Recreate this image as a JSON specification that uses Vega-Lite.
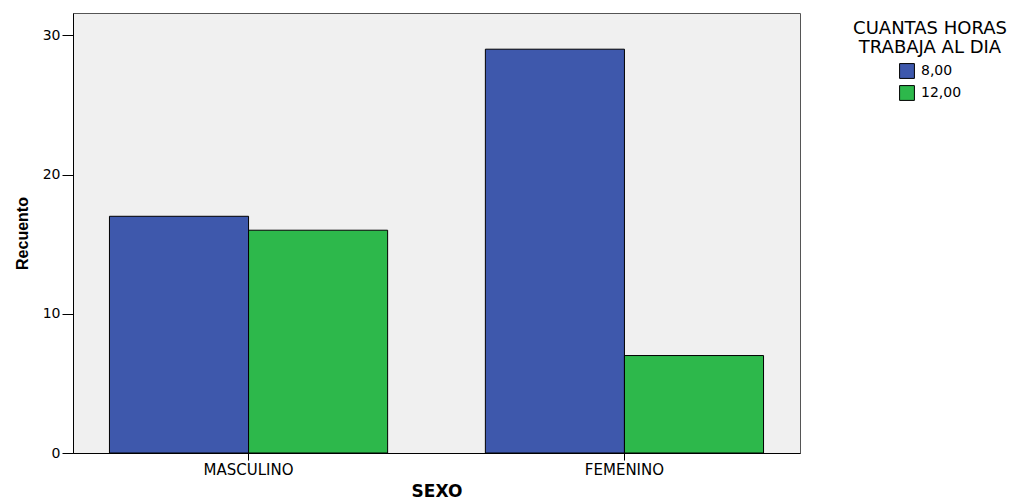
{
  "$schema": "https://vega.github.io/schema/vega-lite/v6.json",
  "autosize": "none",
  "width": 727,
  "height": 440,
  "padding": {"left": 73, "top": 13, "right": 233, "bottom": 48},
  "background": "white",
  "config": {
    "font": "DejaVu Sans",
    "view": {"fill": "#F0F0F0", "stroke": "#555555", "strokeWidth": 1}
  },
  "data": {
    "values": [
      {"sexo": "MASCULINO", "horas": "8,00", "recuento": 17},
      {"sexo": "MASCULINO", "horas": "12,00", "recuento": 16},
      {"sexo": "FEMENINO", "horas": "8,00", "recuento": 29},
      {"sexo": "FEMENINO", "horas": "12,00", "recuento": 7}
    ]
  },
  "mark": {"type": "bar", "stroke": "#000000", "strokeWidth": 1},
  "encoding": {
    "x": {
      "field": "sexo",
      "type": "nominal",
      "sort": ["MASCULINO", "FEMENINO"],
      "scale": {"paddingInner": 0.26, "paddingOuter": 0.097},
      "axis": {
        "title": "SEXO",
        "titleFont": "DejaVu Sans",
        "titleFontSize": 17,
        "titleFontWeight": "bold",
        "titleColor": "#000000",
        "titlePadding": 6,
        "labelAngle": 0,
        "labelFont": "DejaVu Sans",
        "labelFontSize": 15,
        "labelColor": "#000000",
        "labelPadding": 2,
        "tickColor": "#000000",
        "tickSize": 7,
        "domainColor": "#000000",
        "grid": false
      }
    },
    "xOffset": {"field": "horas", "type": "nominal", "sort": ["8,00", "12,00"], "scale": {"paddingInner": 0, "paddingOuter": 0}},
    "y": {
      "field": "recuento",
      "type": "quantitative",
      "scale": {"domain": [0, 31.6], "nice": false},
      "axis": {
        "title": "Recuento",
        "titleFont": "Liberation Sans",
        "titleFontSize": 16,
        "titleFontWeight": "bold",
        "titleColor": "#000000",
        "titlePadding": 12,
        "values": [0, 10, 20, 30],
        "labelFont": "DejaVu Sans",
        "labelFontSize": 14,
        "labelColor": "#000000",
        "tickColor": "#000000",
        "tickSize": 11,
        "labelPadding": 2,
        "domainColor": "#000000",
        "grid": false
      }
    },
    "color": {
      "field": "horas",
      "type": "nominal",
      "sort": ["8,00", "12,00"],
      "scale": {"domain": ["8,00", "12,00"], "range": ["#3E58AC", "#2DB84B"]},
      "legend": {
        "title": ["CUANTAS HORAS", "TRABAJA AL DIA"],
        "titleFont": "DejaVu Sans",
        "titleFontSize": 18,
        "titleFontWeight": "normal",
        "titleColor": "#000000",
        "titleAlign": "center",
        "titleAnchor": "middle",
        "titleLineHeight": 19,
        "titlePadding": 6,
        "labelFont": "DejaVu Sans",
        "labelFontSize": 14,
        "labelColor": "#000000",
        "labelOffset": 6,
        "symbolType": "square",
        "symbolSize": 220,
        "symbolStrokeColor": "#000000",
        "symbolStrokeWidth": 1,
        "orient": "none",
        "legendX": 780,
        "legendY": 7,
        "rowPadding": 2
      }
    }
  }
}
